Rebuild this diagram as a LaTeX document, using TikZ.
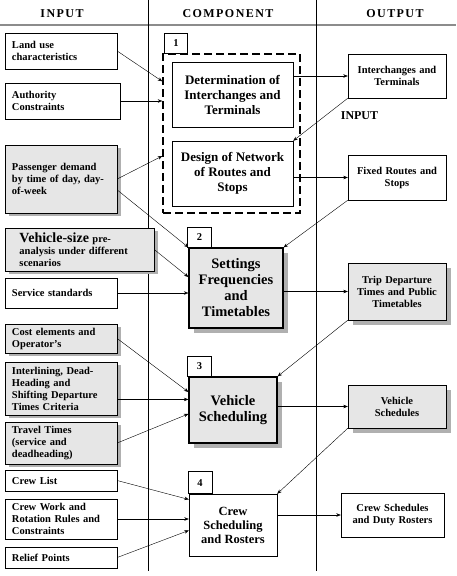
\documentclass[tikz,border=0pt]{standalone}
\usepackage{fontspec}
\setmainfont{Liberation Serif}
\newfontfamily\headfont{Liberation Serif}[LetterSpace=12]
\usepackage{tikz}
\usetikzlibrary{arrows.meta,positioning,calc,shadows}
\definecolor{boxgray}{HTML}{E6E6E6}
\definecolor{shadegray}{HTML}{B0B0B0}
\definecolor{rulegray}{HTML}{8C8C8C}

\begin{document}
\begin{tikzpicture}[x=1pt, y=-1pt,
  inbox/.style={draw, fill=white, align=left, inner xsep=7pt, inner ysep=0pt, text width=98pt, font=\bfseries\fontsize{10.5}{12}\selectfont},
  ingray/.style={inbox, fill=boxgray, drop shadow={shadow xshift=4pt, shadow yshift=-3pt, fill=shadegray, opacity=1}},
  comp/.style={draw, fill=white, align=center, inner sep=2pt, font=\bfseries\fontsize{13}{15}\selectfont},
  bigcomp/.style={comp, fill=boxgray, line width=1.2pt, drop shadow={shadow xshift=5pt, shadow yshift=-5pt, fill=shadegray, opacity=1}, font=\bfseries\fontsize{14.5}{16}\selectfont},
  tag/.style={draw, fill=white, minimum width=24pt, minimum height=20pt, inner sep=0pt, font=\bfseries\fontsize{10.5}{12}\selectfont},
  outbox/.style={draw, fill=white, align=center, text width=92pt, inner xsep=3pt, inner ysep=0pt, font=\bfseries\fontsize{10.5}{12}\selectfont},
  outgray/.style={outbox, fill=boxgray, drop shadow={shadow xshift=5pt, shadow yshift=-5pt, fill=shadegray, opacity=1}},
  head/.style={font=\headfont\bfseries\fontsize{12}{14}\selectfont},
  >={Stealth[length=4.5pt,width=3.5pt]}
]
\useasboundingbox (0,0) rectangle (456,576);

% column heads and rules
\node[head] (hin) at (62,14) {INPUT};
\node[head] (hcomp) at (228,14) {COMPONENT};
\node[head] (hout) at (395,14) {OUTPUT};
\draw[rulegray, line width=1.2pt] (0,25) -- (456,25);
\draw (148,0) -- (148,571);
\draw (316,0) -- (316,571);

% inputs
\node[inbox, minimum height=36pt] (land) at (61,51) {Land use\\characteristics};
\node[inbox, minimum height=36pt, text width=101pt] (auth) at (62.5,101) {Authority\\Constraints};
\node[ingray, minimum height=68pt] (pass) at (61,179) {Passenger demand\\by time of day, day-\\of-week};
\node[ingray, minimum height=43pt, inner xsep=14.5pt, text width=120pt] (vsize) at (79.5,249.5) {{\fontsize{14}{14}\selectfont Vehicle-size} pre-\\analysis under different\\scenarios};
\node[inbox, minimum height=30pt] (serv) at (61,293) {Service standards};
\node[ingray, minimum height=29pt] (cost) at (61,338.5) {Cost elements and\\Operator's};
\node[ingray, minimum height=53pt] (inter) at (61,388.5) {Interlining, Dead-\\Heading and\\Shifting Departure\\Times Criteria};
\node[ingray, minimum height=42pt] (travel) at (61,443) {Travel Times\\(service and\\deadheading)};
\node[inbox, minimum height=21pt] (crewl) at (61,480.5) {Crew List};
\node[inbox, minimum height=40pt] (crewr) at (61,519) {Crew Work and\\Rotation Rules and\\Constraints};
\node[inbox, minimum height=21pt] (relief) at (61,557.5) {Relief Points};

% components
\node[draw, dash pattern=on 8pt off 4pt, line width=1.4pt, minimum width=137pt, minimum height=159pt] (frame) at (231.5,133.5) {};
\node[tag, minimum width=23pt, above right=0pt and 2pt of frame.north west] (tag1) {1};
\node[comp, minimum width=121pt, minimum height=65pt] (det) at (232.5,94.5) {Determination of\\Interchanges and\\Terminals};
\node[comp, minimum width=121pt, minimum height=65pt] (des) at (232.5,173.5) {Design of Network\\of Routes and\\Stops};
\node[bigcomp, minimum width=94pt, minimum height=80pt] (freq) at (236,288) {Settings\\Frequencies\\and\\Timetables};
\node[tag, above right=0pt and -1pt of freq.north west] (tag2) {2};
\node[bigcomp, minimum width=88pt, minimum height=66pt] (veh) at (233,410) {Vehicle\\Scheduling};
\node[tag, above right=0pt and -1pt of veh.north west] (tag3) {3};
\node[comp, minimum width=88pt, minimum height=62pt, font=\bfseries\fontsize{12.5}{14}\selectfont] (crew) at (233,525) {Crew\\Scheduling\\and Rosters};
\node[tag, minimum height=22pt, above right=0pt and -1pt of crew.north west] (tag4) {4};

% outputs
\node[outbox, minimum height=44pt] (oint) at (397,76) {Interchanges and\\Terminals};
\node[font=\bfseries\fontsize{12}{13}\selectfont] (lbl) at (359.5,116) {INPUT};
\node[outbox, minimum height=45pt] (oroutes) at (397,177.5) {Fixed Routes and\\Stops};
\node[outgray, minimum height=57pt] (otrip) at (397,291.5) {Trip Departure\\Times and Public\\Timetables};
\node[outgray, minimum height=43pt] (oveh) at (397,406.5) {Vehicle\\Schedules};
\node[outbox, minimum height=44pt, text width=97pt] (ocrew) at (392.5,515) {Crew Schedules\\and Duty Rosters};

% inputs to components
\draw[->] (land.east) -- (frame.143);
\draw[->] (auth.east) -- (auth.east -| frame.west);
\draw[->] (pass.east) -- (frame.198);
\draw[->] (pass.349) -- (freq.north west);
\draw[->] (vsize.east) -- (freq.167);
\draw[->] (serv.east) -- (serv.east -| freq.west);
\draw[->] (cost.east) -- (veh.158);
\draw[->] (inter.349) -- (inter.349 -| veh.west);
\draw[->] (travel.east) -- (veh.185);
\draw[->] (crewl.east) -- (crew.150);
\draw[->] (crewr.east) -- (crewr.east -| crew.west);
\draw[->] (relief.east) -- (crew.187);

% components to outputs and back
\draw[->] (oint.west -| det.east) -- (oint.west);
\draw[->] (oint.south west) -- (des.north east);
\draw[->] (oroutes.west -| des.east) -- (oroutes.west);
\draw[->] (oroutes.south west) -- (freq.north east);
\draw[->] (otrip.west -| freq.east) -- (otrip.west);
\draw[->] (otrip.south west) -- (veh.north east);
\draw[->] (oveh.west -| veh.east) -- (oveh.west);
\draw[->] (oveh.south west) -- (crew.north east);
\draw[->] (ocrew.west -| crew.east) -- (ocrew.west);
\end{tikzpicture}
\end{document}
